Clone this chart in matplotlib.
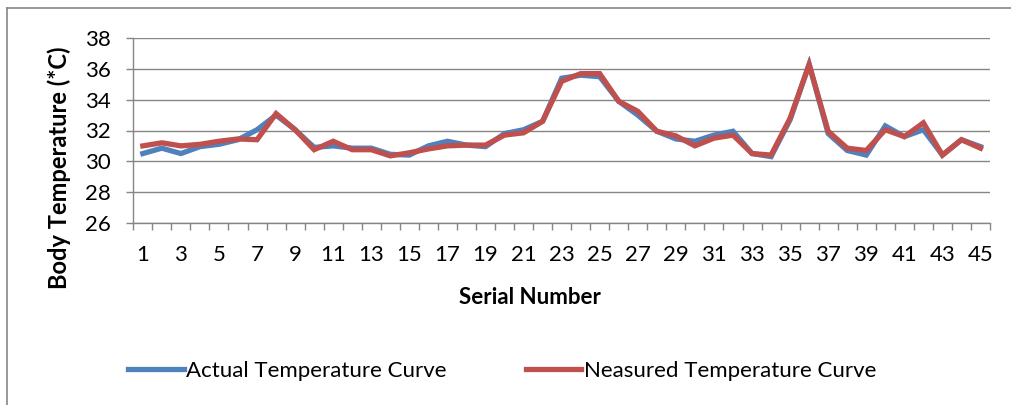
import matplotlib
matplotlib.use("Agg")
import matplotlib.pyplot as plt
from matplotlib.lines import Line2D
from matplotlib.ticker import FixedLocator

plt.rcParams['font.family'] = ['Lato', 'DejaVu Sans']

# Dados
serial = list(range(1, 46))
actual = [30.5, 30.85, 30.5, 30.95, 31.1, 31.4, 32.05, 33.0, 32.05, 30.9,
          31.0, 30.85, 30.85, 30.45, 30.4, 31.0, 31.3, 31.05, 30.95, 31.8,
          32.05, 32.6, 35.4, 35.6, 35.5, 33.9, 33.0, 31.95, 31.45, 31.3,
          31.7, 31.95, 30.5, 30.3, 32.7, 36.3, 31.8, 30.7, 30.4, 32.3,
          31.6, 32.05, 30.4, 31.4, 30.95]
measured = [31.0, 31.2, 31.0, 31.1, 31.3, 31.45, 31.4, 33.1, 32.05, 30.75,
            31.3, 30.75, 30.75, 30.35, 30.55, 30.8, 31.0, 31.05, 31.05, 31.7,
            31.85, 32.6, 35.2, 35.7, 35.7, 33.9, 33.25, 31.95, 31.65, 31.0,
            31.5, 31.7, 30.5, 30.4, 32.8, 36.3, 31.95, 30.85, 30.7, 32.05,
            31.6, 32.5, 30.4, 31.4, 30.85]
y_ticks = [26, 28, 30, 32, 34, 36, 38]

W, H = 1011, 405
gray = '#868686'
fs = 16
fig = plt.figure(figsize=(W / 100, H / 100), dpi=100)
ax = fig.add_axes([133.3 / W, 1 - 222.7 / H, (990 - 133.3) / W, (222.7 - 38.3) / H])

ax.plot(serial, actual, color='#4F81BD', lw=3.8, solid_joinstyle='miter',
        label='Actual Temperature Curve')
ax.plot(serial, measured, color='#C0504D', lw=3.8, solid_joinstyle='miter',
        label='Neasured Temperature Curve')

ax.set_xlim(0.5, 45.5)
ax.set_ylim(26, 38)
ax.set_yticks(y_ticks)
ax.set_xticks(serial[::2])
ax.xaxis.set_minor_locator(FixedLocator([i + 0.5 for i in range(0, 46)]))
ax.tick_params(axis='x', which='major', length=0, pad=16, labelsize=fs)
ax.tick_params(axis='x', which='minor', length=5, width=1, color=gray, direction='out')
ax.tick_params(axis='y', length=5, width=1, color=gray, direction='out', pad=11, labelsize=fs)

ax.grid(axis='y', color=gray, lw=1.0)
ax.set_axisbelow(True)
for s in ['top', 'right']:
    ax.spines[s].set_visible(False)
for s in ['left', 'bottom']:
    ax.spines[s].set_color(gray)
    ax.spines[s].set_linewidth(1.0)

fig.text(530 / W, 1 - 298 / H, 'Serial Number', ha='center', va='center',
         fontsize=fs, fontweight='bold')
fig.text(59 / W, 1 - 168 / H, 'Body Temperature (*C)', ha='center', va='center',
         rotation=90, fontsize=17, fontweight='bold')

leg = ax.legend(loc='center left', bbox_to_anchor=(128 / W, 1 - 371 / H),
                bbox_transform=fig.transFigure, ncol=2, frameon=False,
                fontsize=fs, handlelength=2.5, handletextpad=0.13,
                columnspacing=3.55, borderpad=0, borderaxespad=0)

# moldura do gráfico (só a parte visível)
fig.add_artist(Line2D([7 / W, 7 / W], [0, 1 - 8 / H], transform=fig.transFigure,
                      color=gray, lw=1.2))
fig.add_artist(Line2D([7 / W, 1], [1 - 8 / H, 1 - 8 / H], transform=fig.transFigure,
                      color=gray, lw=1.2))

fig.savefig('out.png', dpi=100)
